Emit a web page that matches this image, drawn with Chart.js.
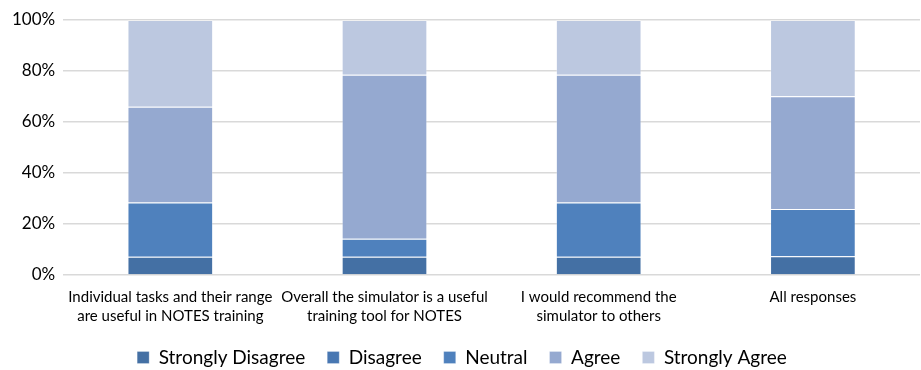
<!DOCTYPE html>
<html>
<head>
<meta charset="utf-8">
<script src="https://cdn.jsdelivr.net/npm/chart.js@4/dist/chart.umd.min.js"></script>
<style>
  html, body { margin: 0; padding: 0; background: #ffffff; }
  #wrap { width: 921px; height: 370px; position: relative; }
</style>
</head>
<body>
<div id="wrap"><canvas id="c"></canvas></div>
<script>
// Survey statements (x-axis categories), multi-line labels
const categories = [
  ["Individual tasks and their range", "are useful in NOTES training"],
  ["Overall the simulator is a useful", "training tool for NOTES"],
  ["I would recommend the", "simulator to others"],
  "All responses"
];

// Share of responses per answer (%)
const stronglyDisagree = [7.1, 7.1, 7.1, 7.3];
const disagree         = [0, 0, 0, 0];
const neutral          = [21.3, 7.1, 21.3, 18.6];
const agree            = [37.6, 64.3, 50.1, 44.2];
const stronglyAgree    = [34.0, 21.5, 21.5, 29.9];

const yTicks = [0, 20, 40, 60, 80, 100];

const FONT = "Lato";

function series(label, data, color) {
  return {
    label, data,
    backgroundColor: color,
    borderColor: "rgba(255,255,255,0.25)",
    borderWidth: 1,
    categoryPercentage: 1.0,
    barPercentage: 0.4
  };
}

// Compact legend row at the bottom; its box is extended upward so the
// entries sit just under the axis labels.
const legendPlacement = {
  id: "legendPlacement",
  afterInit(chart) {
    const legend = chart.legend;
    const fit = legend.fit;
    legend.fit = function () { fit.call(this); this.height = 31; };
  },
  afterLayout(chart) {
    chart.legend.top -= 13;
  }
};

new Chart(document.getElementById("c"), {
  type: "bar",
  data: {
    labels: categories,
    datasets: [
      series("Strongly Disagree", stronglyDisagree, "#4470a4"),
      series("Disagree", disagree, "#4877b2"),
      series("Neutral", neutral, "#4f81bd"),
      series("Agree", agree, "#95a9d0"),
      series("Strongly Agree", stronglyAgree, "#bcc8e0")
    ]
  },
  plugins: [legendPlacement],
  options: {
    responsive: true,
    maintainAspectRatio: false,
    animation: false,
    layout: { padding: { top: 20, right: 1, bottom: 0, left: 4 } },
    plugins: {
      tooltip: { enabled: false },
      legend: {
        position: "bottom",
        labels: {
          color: "#000000",
          font: { family: FONT, size: 19 },
          boxWidth: 12,
          boxHeight: 12,
          padding: 22
        }
      }
    },
    scales: {
      x: {
        stacked: true,
        grid: { display: false, drawTicks: false },
        border: { display: false },
        ticks: {
          color: "#000000",
          font: { family: FONT, size: 15, lineHeight: 1.27 },
          maxRotation: 0,
          autoSkip: false,
          padding: 13
        }
      },
      y: {
        stacked: true,
        min: 0,
        max: 100,
        afterBuildTicks: (axis) => { axis.ticks = yTicks.map(v => ({ value: v })); },
        grid: { color: "#d9d9d9", lineWidth: 1.5, drawTicks: false },
        border: { display: false },
        ticks: {
          color: "#000000",
          font: { family: FONT, size: 17 },
          padding: 8,
          callback: (v) => v + "%"
        }
      }
    }
  }
});
</script>
</body>
</html>
